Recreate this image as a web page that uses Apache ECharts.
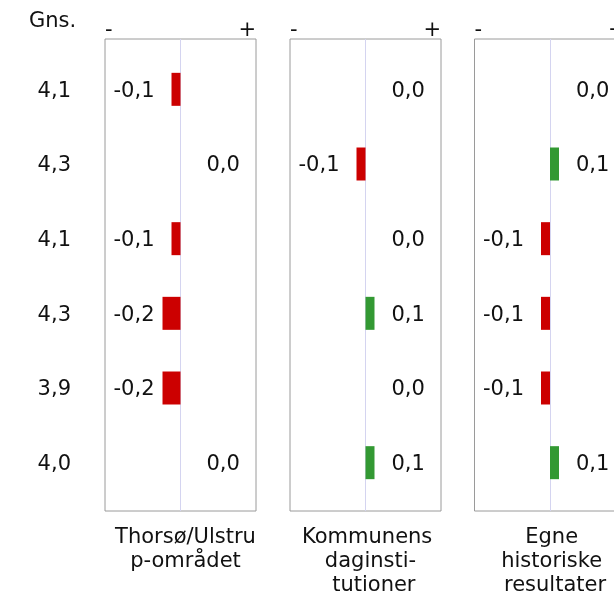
<!DOCTYPE html>
<html><head><meta charset="utf-8">
<script src="https://cdn.jsdelivr.net/npm/echarts@6/dist/echarts.min.js"></script>
<style>html,body{margin:0;padding:0;background:#fff}#c{width:614px;height:596px}</style>
</head><body><div id="c"></div>
<script>
const gns = ['4,1', '4,3', '4,1', '4,3', '3,9', '4,0'];
const panelTitles = ['Thorsø/Ulstru\np-området', 'Kommunens \ndaginsti-\n tutioner', 'Egne \nhistoriske \nresultater'];
const thorso = [-0.1, 0.0, -0.1, -0.2, -0.2, 0.0];
const kommunen = [0.0, -0.1, 0.0, 0.1, 0.0, 0.1];
const historisk = [0.0, 0.1, -0.1, -0.1, -0.1, 0.1];
const panels = [thorso, kommunen, historisk];

const FONT = 'DejaVu Sans';
const TXT = '#111';
const RED = '#cc0000', GREEN = '#339933';
const LEFTS = [105, 290, 474.5];
const W = 151;
const XR = 0.839;
const LOFF = 26 / 90;
const fmt = v => v.toFixed(1).replace('.', ',');

const grid = [], xAxis = [], yAxis = [], series = [], title = [];
// box grids
LEFTS.forEach((l, i) => {
  grid.push({left: l, top: 39, width: W, height: 472, show: true, borderColor: '#9a9a9a', borderWidth: 1,
    backgroundColor: 'transparent', outerBoundsMode: 'none', containLabel: false});
  xAxis.push({type: 'value', gridIndex: i, min: -1, max: 1, interval: 1, position: 'top',
    axisLine: {show: false}, axisTick: {show: false},
    splitLine: {show: true, showMinLine: false, showMaxLine: false, lineStyle: {color: '#d4d4f0', width: 1}},
    axisLabel: {show: true, margin: -2, fontFamily: FONT, fontSize: 21, color: TXT,
      alignMinLabel: 'left', alignMaxLabel: 'right',
      formatter: v => v === -1 ? '-' : (v === 1 ? '+' : '')}});
  yAxis.push({type: 'value', gridIndex: i, show: false});
});
// data grids
LEFTS.forEach((l, i) => {
  const gi = i + 3;
  grid.push({left: l, top: 52, width: W, height: 448, outerBoundsMode: 'none', containLabel: false});
  xAxis.push({type: 'value', gridIndex: gi, min: -XR, max: XR, show: false});
  yAxis.push({type: 'category', gridIndex: gi, inverse: true, data: gns,
    axisLine: {show: false}, axisTick: {show: false}, splitLine: {show: false},
    axisLabel: {show: i === 0, margin: 34, fontFamily: FONT, fontSize: 21, color: TXT,
      formatter: v => '{a|' + v + '}',
      rich: {a: {fontFamily: FONT, fontSize: 21, color: TXT, padding: [4, 0, 0, 0]}}}});
  const vals = panels[i];
  series.push({type: 'bar', xAxisIndex: gi, yAxisIndex: gi, barWidth: 33, silent: true,
    data: vals.map(v => ({value: v, itemStyle: {color: v < 0 ? RED : GREEN}}))});
  series.push({type: 'scatter', xAxisIndex: gi, yAxisIndex: gi, symbolSize: 0, silent: true,
    itemStyle: {opacity: 1},
    data: vals.map((v, k) => ({value: [v < 0 ? -LOFF : LOFF, k], raw: v,
      label: {position: v < 0 ? 'left' : 'right'}})),
    label: {show: true, distance: 0, offset: [0, 2], fontFamily: FONT, fontSize: 21, color: TXT,
      formatter: p => fmt(p.data.raw)}});
  title.push({text: panelTitles[i], left: l + W / 2, top: 521, textAlign: 'center',
    textStyle: {fontFamily: FONT, fontSize: 21, fontWeight: 'normal', color: TXT, lineHeight: 24}});
});
title.push({text: 'Gns.', left: 24, top: 6, textStyle: {fontFamily: FONT, fontSize: 21, fontWeight: 'normal', color: TXT}});

const chart = echarts.init(document.getElementById('c'), null, {renderer: 'canvas'});
chart.setOption({animation: false, title, grid, xAxis, yAxis, series});
</script></body></html>
